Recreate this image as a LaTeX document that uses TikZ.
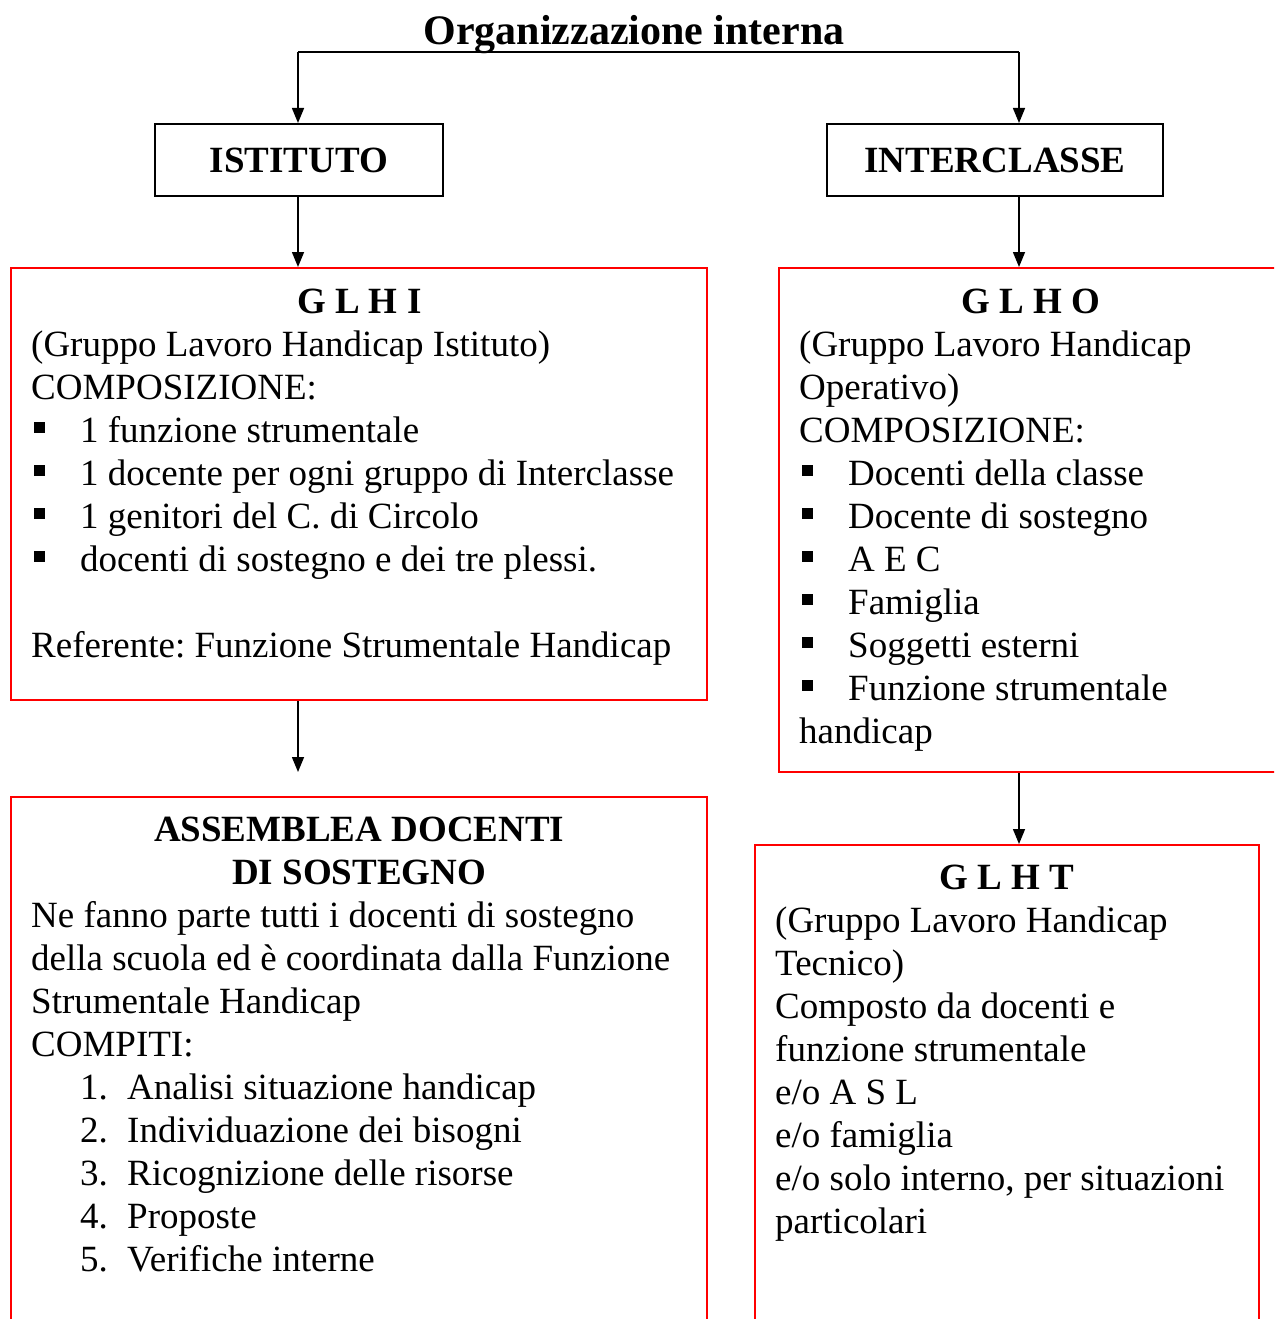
\documentclass[tikz,border=0pt]{standalone}
\usepackage{fontspec}
\setmainfont{Liberation Serif}
\usetikzlibrary{arrows.meta}
\frenchspacing
\newcommand\Lline[1]{\mbox{#1}\par}
\newcommand\Hline[1]{{\centering\bfseries\mbox{#1}\par}}
\newcommand\bul{\hspace*{3pt}\rule[9.5pt]{11pt}{11pt}\hspace*{35pt}}
\newcommand\num[1]{\hspace*{49pt}\makebox[47pt][l]{#1}}
\newcommand\boxtext[2]{\vtop{\hsize=#1\parindent=0pt\parskip=0pt\leftskip=0pt\rightskip=0pt plus 1fil\fontsize{37}{43}\selectfont #2}}
\begin{document}
\begin{tikzpicture}[x=1pt,y=-1pt,
  blkbox/.style={draw=black,line width=2pt,inner sep=0pt,font=\bfseries\fontsize{37}{43}\selectfont},
  redbox/.style={draw=red,line width=2pt,inner sep=0pt},
  txt/.style={anchor=base west,inner sep=0pt},
  arr/.style={line width=1.5pt,-{Triangle[length=15pt,width=12pt]}}]
\clip (0,0) rectangle (1274,1319);
% boxes
\node[blkbox,minimum width=288pt,minimum height=72pt] (ist) at (299,160) {ISTITUTO};
\node[blkbox,minimum width=336pt,minimum height=72pt] (inter) at (995,160) {INTERCLASSE};
\node[redbox,minimum width=696pt,minimum height=432pt] (glhi) at (359,484) {};
\node[redbox,minimum width=504pt,minimum height=504pt] (glho) at (1031,520) {};
\node[redbox,minimum width=696pt,minimum height=560pt] (ass) at (359,1077) {};
\node[redbox,minimum width=504pt,minimum height=520pt] (glht) at (1007,1105) {};
% connectors
\coordinate (hl) at (298,52);
\coordinate (hr) at (1019,52);
\coordinate (gl) at (298,772);
\draw[line width=2pt] (hl) -- (hr);
\draw[arr] (hl) -- (hl |- ist.north);
\draw[arr] (hr) -- (hr |- inter.north);
\draw[arr] (hl |- ist.south) -- (hl |- glhi.north);
\draw[arr] (hr |- inter.south) -- (hr |- glho.north);
\draw[arr] (hl |- glhi.south) -- (gl);
\draw[arr] (hr |- glho.south) -- (hr |- glht.north);
% title
\node[anchor=base,inner sep=0pt,font=\bfseries\fontsize{42}{50}\selectfont] (title) at (634,45) {Organizzazione interna};
% texts
\node[txt] (glhitxt) at (31,313) {\boxtext{656pt}{%
\Hline{G L H I}
\Lline{(Gruppo Lavoro Handicap Istituto)}
\Lline{COMPOSIZIONE:}
\Lline{\bul 1 funzione strumentale}
\Lline{\bul 1 docente per ogni gruppo di Interclasse}
\Lline{\bul 1 genitori del C. di Circolo}
\Lline{\bul docenti di sostegno e dei tre plessi.}
\Lline{}
\Lline{Referente: Funzione Strumentale Handicap}}};
\node[txt] (glhotxt) at (799,313) {\boxtext{464pt}{%
\Hline{G L H O}
\Lline{(Gruppo Lavoro Handicap}
\Lline{Operativo)}
\Lline{COMPOSIZIONE:}
\Lline{\bul Docenti della classe}
\Lline{\bul Docente di sostegno}
\Lline{\bul A E C}
\Lline{\bul Famiglia}
\Lline{\bul Soggetti esterni}
\Lline{\bul Funzione strumentale}
\Lline{handicap}}};
\node[txt] (asstxt) at (31,841) {\boxtext{656pt}{%
\Hline{ASSEMBLEA DOCENTI}
\Hline{DI SOSTEGNO}
\Lline{Ne fanno parte tutti i docenti di sostegno}
\Lline{della scuola ed è coordinata dalla Funzione}
\Lline{Strumentale Handicap}
\Lline{COMPITI:}
\Lline{\num{1.}Analisi situazione handicap}
\Lline{\num{2.}Individuazione dei bisogni}
\Lline{\num{3.}Ricognizione delle risorse}
\Lline{\num{4.}Proposte}
\Lline{\num{5.}Verifiche interne}}};
\node[txt] (glhttxt) at (775,889) {\boxtext{464pt}{%
\Hline{G L H T}
\Lline{(Gruppo Lavoro Handicap}
\Lline{Tecnico)}
\Lline{Composto da docenti e}
\Lline{funzione strumentale}
\Lline{e/o A S L}
\Lline{e/o famiglia}
\Lline{e/o solo interno, per situazioni}
\Lline{particolari}}};
\end{tikzpicture}
\end{document}
